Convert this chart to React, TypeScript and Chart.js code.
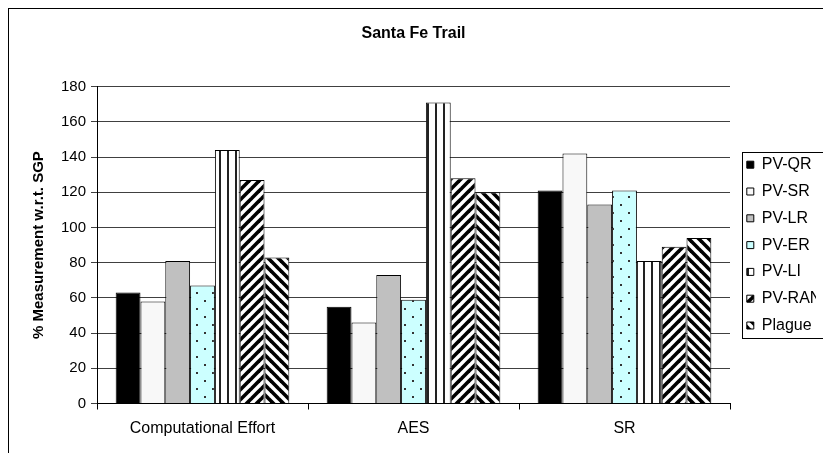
import React, { useEffect, useRef } from "react";
import { Chart, registerables } from "chart.js";

Chart.register(...registerables);

// ---- data ----
const categories = ["Computational Effort", "AES", "SR"];
const seriesNames = ["PV-QR", "PV-SR", "PV-LR", "PV-ER", "PV-LI", "PV-RAN", "Plague"];
const pvQR = [63, 55, 121];
const pvSR = [58, 46, 142];
const pvLR = [81, 73, 113];
const pvER = [67, 59, 121];
const pvLI = [144, 171, 81];
const pvRAN = [127, 128, 89];
const plague = [83, 120, 94];
const yMin = 0;
const yMax = 180;
const yStep = 20;
const chartTitle = "Santa Fe Trail";
const yTitle = "% Measurement w.r.t. SGP";

const FONT = "Arial, 'Liberation Sans', sans-serif";

function tile(w: number, h: number, draw: (ctx: CanvasRenderingContext2D) => void): CanvasPattern | string {
  const c = document.createElement("canvas");
  c.width = w;
  c.height = h;
  const ctx = c.getContext("2d")!;
  draw(ctx);
  const p = ctx.createPattern(c, "repeat");
  return p || "#fff";
}

function makeFills(): (CanvasPattern | string)[] {
  const dots = tile(16, 16, (ctx) => {
    ctx.fillStyle = "#ccffff";
    ctx.fillRect(0, 0, 16, 16);
    ctx.fillStyle = "#333";
    ctx.fillRect(4, 4, 2, 2);
    ctx.fillRect(12, 12, 2, 2);
  });
  const vstripes = tile(8, 8, (ctx) => {
    ctx.fillStyle = "#fff";
    ctx.fillRect(0, 0, 8, 8);
    ctx.fillStyle = "#222";
    ctx.fillRect(3, 0, 2, 8);
  });
  const s = 10;
  const up = tile(s, s, (ctx) => {
    ctx.fillStyle = "#fff";
    ctx.fillRect(0, 0, s, s);
    ctx.strokeStyle = "#000";
    ctx.lineWidth = 3.6;
    for (let k = -1; k <= 1; k++) {
      ctx.beginPath();
      ctx.moveTo(k * s - 2, s + 2);
      ctx.lineTo(k * s + s + 2, -2);
      ctx.stroke();
    }
  });
  const down = tile(s, s, (ctx) => {
    ctx.fillStyle = "#fff";
    ctx.fillRect(0, 0, s, s);
    ctx.strokeStyle = "#000";
    ctx.lineWidth = 3.6;
    for (let k = -1; k <= 1; k++) {
      ctx.beginPath();
      ctx.moveTo(k * s - 2, -2);
      ctx.lineTo(k * s + s + 2, s + 2);
      ctx.stroke();
    }
  });
  return ["#000000", "#f8f8f8", "#c0c0c0", dots, vstripes, up, down];
}

const legendFrame = {
  id: "legendFrame",
  afterLayout(chart: any) {
    const lg = chart.legend;
    if (!lg) return;
    const target = chart.chartArea.right + 6;
    const dx = target - lg.left;
    lg.left += dx;
    lg.right += dx;
  },
  afterDraw(chart: any) {
    const ca = chart.chartArea;
    const ctx = chart.ctx as CanvasRenderingContext2D;
    const cy = (ca.top + ca.bottom) / 2;
    ctx.save();
    ctx.strokeStyle = "#000";
    ctx.lineWidth = 1;
    ctx.strokeRect(Math.round(ca.right + 12) + 0.5, Math.round(cy - 93) + 0.5, 300, 186);
    ctx.restore();
  },
};

export default function App() {
  const ref = useRef<HTMLCanvasElement>(null);

  useEffect(() => {
    const canvas = ref.current!;
    const fills = makeFills();
    const values = [pvQR, pvSR, pvLR, pvER, pvLI, pvRAN, plague];
    const chart = new Chart(canvas, {
      type: "bar",
      data: {
        labels: categories,
        datasets: seriesNames.map((name, i) => ({
          label: name,
          data: values[i],
          backgroundColor: fills[i] as any,
          borderColor: "#000",
          borderWidth: 1,
          categoryPercentage: 0.823,
          barPercentage: 1,
        })),
      },
      options: {
        responsive: false,
        animation: false,
        devicePixelRatio: 1,
        layout: { padding: { left: 0, right: 90, top: 0, bottom: 0 } },
        plugins: {
          tooltip: { enabled: false },
          title: {
            display: true,
            text: chartTitle,
            fullSize: false,
            color: "#000",
            font: { family: FONT, size: 16, weight: "bold" },
            padding: { top: 24, bottom: 43.5 },
          },
          legend: {
            display: true,
            position: "right",
            fullSize: false,
            maxWidth: 80,
            labels: {
              color: "#000",
              font: { family: FONT, size: 16 },
              boxWidth: 7,
              boxHeight: 7,
              padding: 10.8,
            },
          },
        },
        scales: {
          x: {
            offset: true,
            border: { display: true, color: "#000", width: 1 },
            grid: { display: true, drawOnChartArea: false, drawTicks: true, tickLength: 6, color: "#000", offset: true },
            ticks: { color: "#000", font: { family: FONT, size: 16 }, padding: 9, maxRotation: 0 },
            afterFit: (scale: any) => {
              scale.height = 49.5;
            },
          },
          y: {
            min: yMin,
            max: yMax,
            border: { display: true, color: "#000", width: 1 },
            grid: { color: "#404040", drawTicks: true, tickLength: 6 },
            ticks: { stepSize: yStep, color: "#000", font: { family: FONT, size: 15 }, padding: 5 },
            title: {
              display: true,
              text: yTitle,
              color: "#000",
              font: { family: FONT, size: 15, weight: "bold" },
              padding: { top: 30, bottom: 0 },
            },
            afterFit: (scale: any) => {
              scale.width = 97;
            },
          },
        },
      },
      plugins: [legendFrame],
    });
    return () => chart.destroy();
  }, []);

  return (
    <div
      style={{
        position: "fixed",
        left: 0,
        top: 0,
        width: 823,
        height: 453,
        overflow: "hidden",
        background: "#fff",
      }}
    >
      <div
        style={{
          position: "absolute",
          left: 8,
          top: 8,
          width: 1000,
          height: 1000,
          border: "1px solid #000",
        }}
      />
      <canvas
        ref={ref}
        width={900}
        height={453}
        style={{ position: "absolute", left: 0, top: 0, width: 900, height: 453 }}
      />
    </div>
  );
}
